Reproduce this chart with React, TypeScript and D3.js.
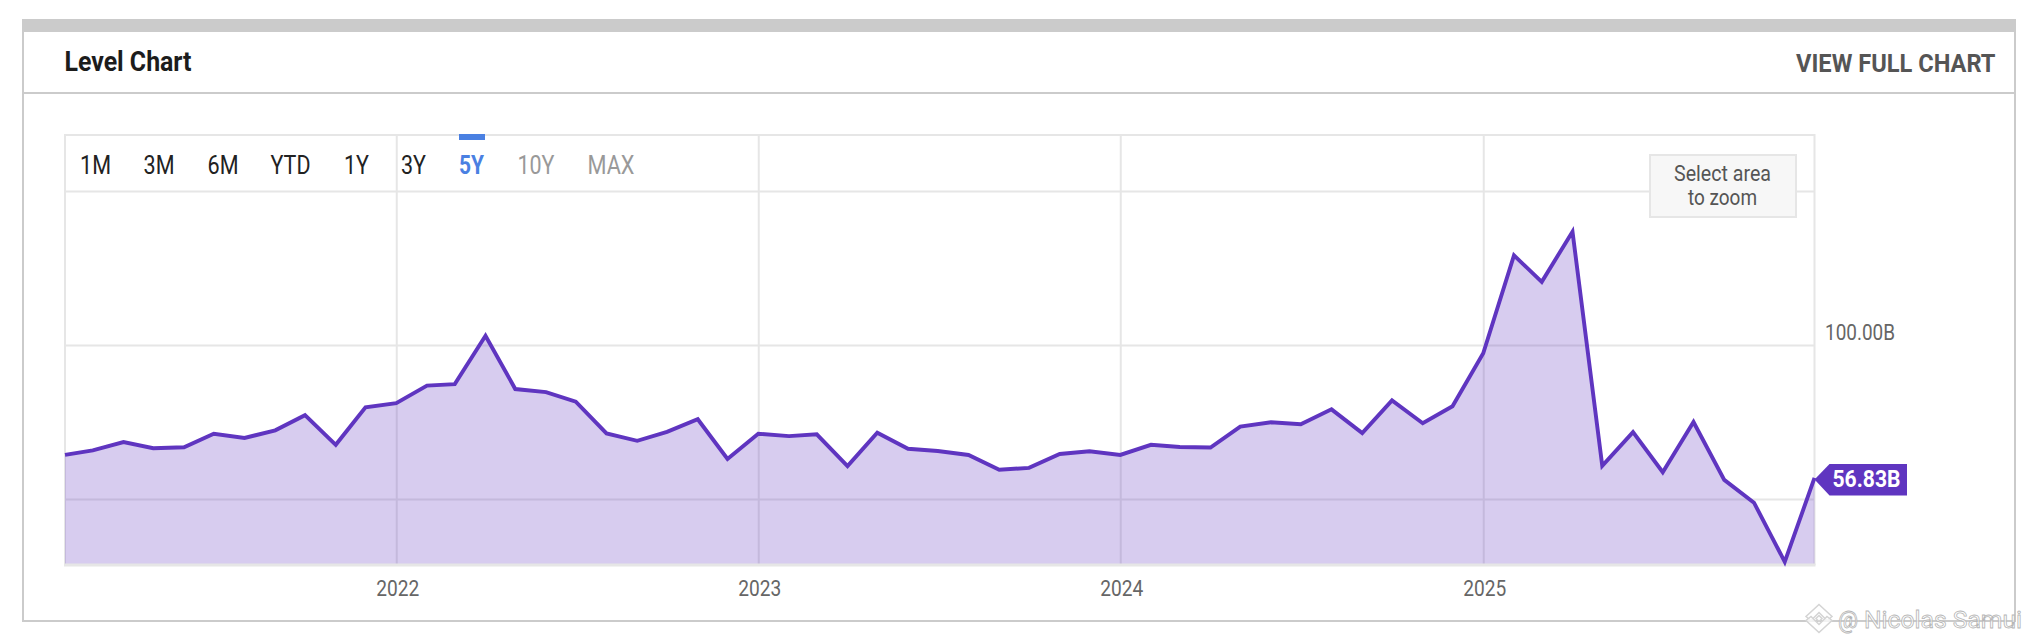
import React, { useRef, useEffect } from 'react';
import * as d3 from 'd3';

// monthly level, in billions, Feb 2021 to Dec 2025
const startMonth = new Date(2021, 1, 1);
const levels2021 = [64.3, 65.8, 68.5, 66.5, 66.8, 71.2, 69.8, 72.3, 77.2, 67.6, 79.8];
const levels2022 = [81.1, 86.8, 87.3, 103.0, 85.7, 84.7, 81.6, 71.3, 68.9, 71.8, 75.9, 63.0];
const levels2023 = [71.2, 70.4, 71.0, 60.7, 71.5, 66.3, 65.6, 64.3, 59.5, 60.1, 64.6, 65.5];
const levels2024 = [64.3, 67.6, 66.9, 66.7, 73.5, 74.9, 74.3, 79.1, 71.4, 82.0, 74.6, 80.1];
const levels2025 = [97.3, 129.1, 120.5, 136.8, 60.8, 71.7, 58.7, 75.0, 56.2, 48.8, 29.6, 56.83];

const yearTicks = [2022, 2023, 2024, 2025];
const levelTicks = [50, 100, 150];
const labelledLevel = 100;
const rangeTabs = ['1M', '3M', '6M', 'YTD', '1Y', '3Y', '5Y', '10Y', 'MAX'];
const activeTab = '5Y';
const disabledTabs = ['10Y', 'MAX'];

const series = [...levels2021, ...levels2022, ...levels2023, ...levels2024, ...levels2025].map((value, i) => ({
    date: d3.timeMonth.offset(startMonth, i),
    value,
}));

const PLOT = { left: 65, right: 1814.5, top: 135, bottom: 565 };
const GRID = '#e6e6e6';
const FRAME = '#cbcbcb';
const PURPLE = '#5f35c0';
const tabStart = [80, 143.5, 207.5, 270.5, 344, 401, 459, 517.5, 587.5];
const tabWidth = [31, 31, 31, 40, 25, 25, 25, 37, 47];

const createChart = (svg: d3.Selection<SVGSVGElement, unknown, null, undefined>): void => {
    svg.selectAll('*').remove();

    // Roboto squeezed to its condensed look
    const label = (
        text: string, x: number, y: number, length: number, size: number,
        weight: number, color: string, anchor = 'start'
    ) => svg.append('text')
        .text(text)
        .attr('x', x)
        .attr('y', y)
        .attr('textLength', length)
        .attr('lengthAdjust', 'spacingAndGlyphs')
        .attr('text-anchor', anchor)
        .attr('font-family', 'Roboto, sans-serif')
        .attr('font-size', size)
        .attr('font-weight', weight)
        .attr('fill', color);

    const x = d3.scaleTime()
        .domain([series[0].date, series[series.length - 1].date])
        .range([PLOT.left, PLOT.right]);

    // 100B sits on 345 and 50B on 499, the axis is linear
    const y = d3.scaleLinear()
        .domain([28.57, 168.18])
        .range([PLOT.bottom, PLOT.top]);

    // Card frame
    svg.append('rect').attr('x', 23).attr('y', 20).attr('width', 1992).attr('height', 601)
        .attr('fill', '#fff').attr('stroke', FRAME).attr('stroke-width', 2);
    svg.append('rect').attr('x', 22).attr('y', 20).attr('width', 1994).attr('height', 12).attr('fill', FRAME);
    svg.append('line').attr('x1', 23).attr('x2', 2015).attr('y1', 93).attr('y2', 93)
        .attr('stroke', FRAME).attr('stroke-width', 2);

    label('Level Chart', 64.5, 71, 127, 28, 700, '#1c1c1c');
    label('VIEW FULL CHART', 1796, 72, 199.5, 26.5, 700, '#555');

    // Vertical grid and year labels
    const xAxis = svg.append('g')
        .attr('transform', `translate(0,${PLOT.bottom})`)
        .call(d3.axisBottom(x)
            .tickValues(yearTicks.map(year => new Date(year, 0, 1)))
            .tickFormat(d => d3.timeFormat('%Y')(d as Date))
            .tickSize(-(PLOT.bottom - PLOT.top)));
    xAxis.select('.domain').remove();
    xAxis.selectAll('.tick line').attr('stroke', GRID).attr('stroke-width', 2);
    xAxis.selectAll('.tick text')
        .attr('x', 1)
        .attr('y', 31)
        .attr('dy', 0)
        .attr('textLength', 43)
        .attr('lengthAdjust', 'spacingAndGlyphs')
        .attr('font-family', 'Roboto, sans-serif')
        .attr('font-size', 21.5)
        .attr('fill', '#666');

    // Horizontal grid and the single level label
    const yAxis = svg.append('g')
        .attr('transform', `translate(${PLOT.right},0)`)
        .call(d3.axisRight(y)
            .tickValues(levelTicks)
            .tickFormat(d => (d === labelledLevel ? `${(d as number).toFixed(2)}B` : ''))
            .tickSize(-(PLOT.right - PLOT.left)));
    yAxis.select('.domain').remove();
    yAxis.selectAll('.tick line').attr('stroke', GRID).attr('stroke-width', 2);
    yAxis.selectAll('.tick text')
        .attr('x', 10.5)
        .attr('y', -5.5)
        .attr('dy', 0)
        .attr('textLength', d => (d === labelledLevel ? 70 : null) as number)
        .attr('lengthAdjust', 'spacingAndGlyphs')
        .attr('font-family', 'Roboto, sans-serif')
        .attr('font-size', 21.5)
        .attr('fill', '#666');

    // Plot border
    svg.append('path')
        .attr('d', `M${PLOT.left},${PLOT.bottom}V${PLOT.top}H${PLOT.right}V${PLOT.bottom}`)
        .attr('fill', 'none').attr('stroke', GRID).attr('stroke-width', 2);

    // Area and line
    const area = d3.area<{ date: Date; value: number }>()
        .x(d => x(d.date))
        .y0(PLOT.bottom)
        .y1(d => y(d.value));
    const line = d3.line<{ date: Date; value: number }>()
        .x(d => x(d.date))
        .y(d => y(d.value));

    svg.append('path').datum(series).attr('d', area).attr('fill', PURPLE).attr('fill-opacity', 0.25);
    svg.append('line')
        .attr('x1', PLOT.left - 1).attr('x2', PLOT.right + 1)
        .attr('y1', PLOT.bottom).attr('y2', PLOT.bottom)
        .attr('stroke', GRID).attr('stroke-width', 3);
    svg.append('path').datum(series).attr('d', line)
        .attr('fill', 'none').attr('stroke', PURPLE).attr('stroke-width', 3.9).attr('stroke-linejoin', 'miter');

    // Range selector
    rangeTabs.forEach((tab, i) => {
        const color = tab === activeTab ? '#4a80e2' : disabledTabs.includes(tab) ? '#999' : '#222';
        label(tab, tabStart[i], 173.5, tabWidth[i], 25, tab === activeTab ? 700 : 400, color);
    });
    const activeIndex = rangeTabs.indexOf(activeTab);
    svg.append('rect')
        .attr('x', tabStart[activeIndex]).attr('y', 134)
        .attr('width', tabWidth[activeIndex] + 1).attr('height', 6)
        .attr('fill', '#4a80e2');

    // Zoom hint
    svg.append('rect').attr('x', 1650).attr('y', 155).attr('width', 146).attr('height', 62)
        .attr('fill', '#f7f7f7').attr('stroke', GRID).attr('stroke-width', 2);
    label('Select area', 1722.5, 181, 97, 22, 400, '#555', 'middle');
    label('to zoom', 1722.5, 205, 69, 22, 400, '#555', 'middle');

    // Last value tag
    const last = series[series.length - 1];
    const tagY = y(last.value) + 1.5;
    svg.append('path')
        .attr('d', d3.line()([
            [PLOT.right, tagY],
            [PLOT.right + 15, tagY - 15.5],
            [PLOT.right + 92.5, tagY - 15.5],
            [PLOT.right + 92.5, tagY + 16],
            [PLOT.right + 15, tagY + 16],
        ]) + 'Z')
        .attr('fill', PURPLE);
    label(`${last.value.toFixed(2)}B`, PLOT.right + 18, tagY + 8, 68, 23, 700, '#fff');

    // Watermark
    const mark = svg.append('g')
        .attr('transform', 'translate(1819,618.5)')
        .attr('fill', '#fff')
        .attr('fill-opacity', 0.75)
        .attr('stroke', '#d4d4d4')
        .attr('stroke-width', 1.5);
    mark.append('path').attr('d', 'M0,-14L13,-2L8,2L0,-6L-8,2L-13,-2Z');
    mark.append('path').attr('d', 'M0,14L13,2L8,-2L0,6L-8,-2L-13,2Z');
    mark.append('path').attr('d', 'M0,-3L3,0L0,3L-3,0Z');
    label('@', 1838, 627.5, 20, 24, 400, '#fff')
        .attr('fill-opacity', 0.7).attr('stroke', '#b5b5b5').attr('stroke-width', 0.8);
    label('Nicolas Samui', 1864, 627.5, 158, 24, 400, '#fff')
        .attr('fill-opacity', 0.7).attr('stroke', '#b5b5b5').attr('stroke-width', 0.8);
};

const App: React.FC = () => {
    const d3Container = useRef<SVGSVGElement>(null);

    useEffect(() => {
        if (d3Container.current) {
            createChart(d3.select(d3Container.current));
        }
    }, []);

    return (
        <svg
            width={2028}
            height={644}
            ref={d3Container}
            style={{ position: 'absolute', left: 0, top: 0, background: '#fff' }}
        />
    );
};

export default App;
